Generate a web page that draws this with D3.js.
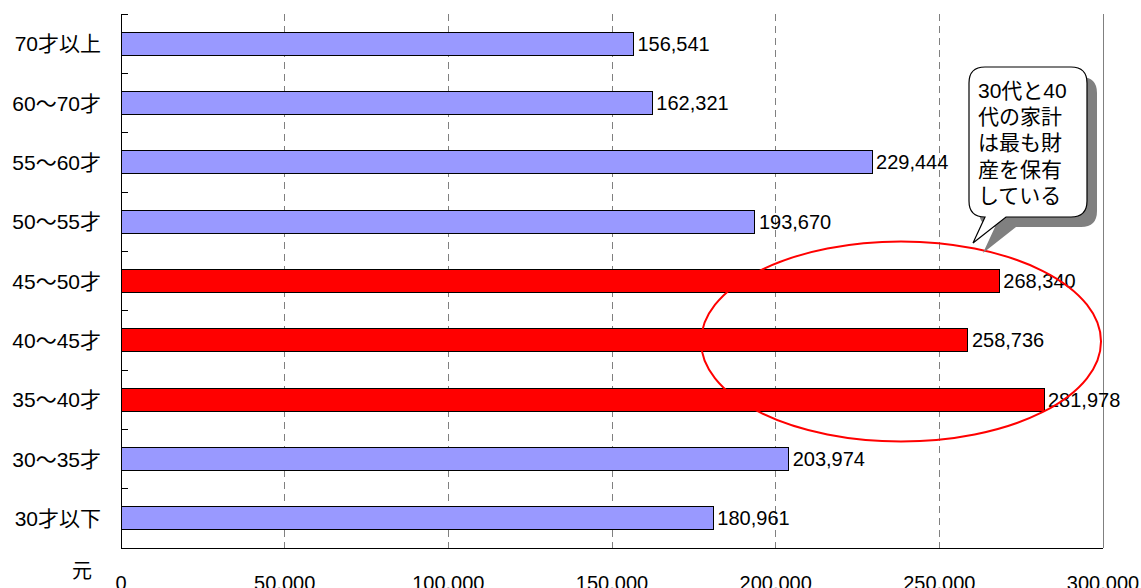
<!DOCTYPE html>
<html><head><meta charset="utf-8">
<script src="https://cdn.jsdelivr.net/npm/d3@7"></script>
<style>
html,body{margin:0;padding:0;background:#fff;}
svg{display:block;font-family:"Liberation Sans","Noto Sans CJK JP",Arial,sans-serif;}
</style></head>
<body>
<svg id="chart" width="1141" height="588"></svg>
<script>
const categories = ["70才以上","60～70才","55～60才","50～55才","45～50才","40～45才","35～40才","30～35才","30才以下"];
const values = [156541,162321,229444,193670,268340,258736,281978,203974,180961];
const highlighted = ["45～50才","40～45才","35～40才"];
const xTicks = [0,50000,100000,150000,200000,250000,300000];
const unitLabel = "元";
const calloutLines = ["30代と40","代の家計","は最も財","産を保有","している"];

(function(){
const svg = d3.select("#chart");
const pL = 121, pR = 1103, pT = 14, pB = 548;
const x = d3.scaleLinear().domain([0,300000]).range([pL,pR]);
const y = d3.scaleBand().domain(categories).range([pT,pB]).paddingInner(0.61).paddingOuter(0.305);
const fmt = d3.format(",");

// gridlines
const g = svg.append("g");
xTicks.filter(t=>t>0).forEach(t=>{
  g.append("line").attr("x1",x(t)).attr("x2",x(t)).attr("y1",pT).attr("y2",pB)
   .attr("stroke","#808080").attr("stroke-width",1)
   .attr("stroke-dasharray", t===300000 ? null : "7,5")
   .attr("shape-rendering","crispEdges");
});

// bars
svg.append("g").selectAll("rect").data(categories).join("rect")
  .attr("x",x(0)).attr("y",d=>y(d))
  .attr("width",(d,i)=>x(values[i])-x(0)).attr("height",y.bandwidth())
  .attr("fill",d=>highlighted.includes(d)?"#FF0000":"#9999FF")
  .attr("stroke","#000").attr("stroke-width",1).attr("shape-rendering","crispEdges");

// value labels
svg.append("g").selectAll("text").data(categories).join("text")
  .attr("x",(d,i)=>x(values[i])+4).attr("y",d=>y(d)+y.bandwidth()/2)
  .attr("dominant-baseline","central").attr("font-size",20).attr("fill","#000")
  .text((d,i)=>fmt(values[i]));

// axes lines
svg.append("line").attr("x1",pL).attr("x2",pL).attr("y1",pT).attr("y2",pB)
  .attr("stroke","#000").attr("shape-rendering","crispEdges");
svg.append("line").attr("x1",pL).attr("x2",pR).attr("y1",pB).attr("y2",pB)
  .attr("stroke","#000").attr("shape-rendering","crispEdges");

// left ticks at band boundaries
const step = y.step();
const bounds = d3.range(categories.length+1).map(i=>pT + i*step);
svg.append("g").selectAll("line").data(bounds).join("line")
  .attr("x1",pL).attr("x2",pL+7).attr("y1",d=>d).attr("y2",d=>d)
  .attr("stroke","#000").attr("shape-rendering","crispEdges");

// category labels
svg.append("g").selectAll("text").data(categories).join("text")
  .attr("x",101).attr("y",d=>y(d)+y.bandwidth()/2)
  .attr("text-anchor","end").attr("dominant-baseline","central")
  .attr("font-size",21).attr("fill","#000").text(d=>d);

// x tick labels
svg.append("g").selectAll("text").data(xTicks).join("text")
  .attr("x",d=>x(d)).attr("y",590).attr("text-anchor","middle")
  .attr("font-size",20).attr("fill","#000").text(d=>fmt(d));

svg.append("text").attr("x",82).attr("y",571).attr("text-anchor","middle")
  .attr("dominant-baseline","central").attr("font-size",20).text(unitLabel);

// ellipse
svg.append("ellipse").attr("cx",901).attr("cy",341.5).attr("rx",200).attr("ry",100)
  .attr("fill","none").attr("stroke","#FF0000").attr("stroke-width",2);

// callout
function calloutPath(x0,y0,x1,y1,r,bx0,bx1,tx,ty){
  return `M${x0+r},${y0} L${x1-r},${y0} Q${x1},${y0} ${x1},${y0+r} L${x1},${y1-r} Q${x1},${y1} ${x1-r},${y1} `+
    `L${bx1},${y1} L${tx},${ty} L${bx0},${y1} L${x0+r},${y1} Q${x0},${y1} ${x0},${y1-r} L${x0},${y0+r} Q${x0},${y0} ${x0+r},${y0} Z`;
}
const cp = calloutPath(969,67,1087,217,16,985,1006,973,243);
svg.append("path").attr("d",cp).attr("transform","translate(10,10)").attr("fill","#808080");
svg.append("path").attr("d",cp).attr("fill","#fff").attr("stroke","#000").attr("stroke-width",1.2);
svg.append("g").selectAll("text").data(calloutLines).join("text")
  .attr("x",978).attr("y",(d,i)=>90+i*26.4).attr("dominant-baseline","central")
  .attr("font-size",21).attr("fill","#000").text(d=>d);
})();
</script>
</body></html>
